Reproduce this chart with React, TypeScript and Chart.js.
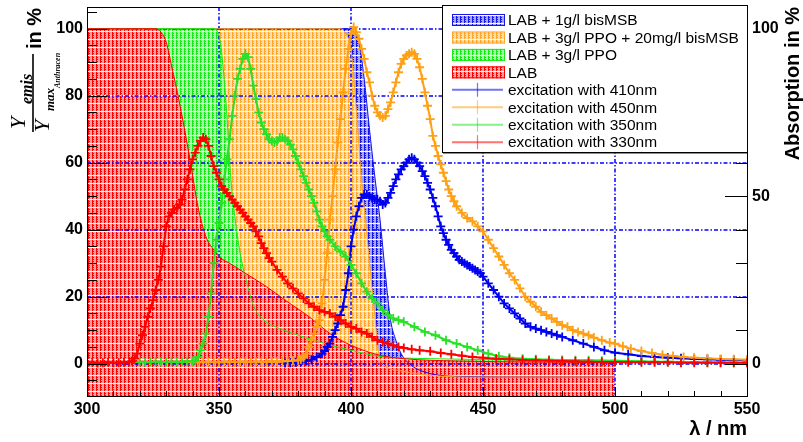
import React, { useEffect, useRef } from 'react';
import { Chart, registerables } from 'chart.js';

Chart.register(...registerables);

// ---------- data ----------
const X_TICKS = [300, 350, 400, 450, 500, 550];
const Y_TICKS = [0, 20, 40, 60, 80, 100];
const Y2_TICKS = [0, 50, 100];

// Absorption (in %) – LAB
const ABS_LAB_X = [300, 326, 328, 330, 332, 335, 339, 342, 345, 348, 350, 355, 360, 368, 375, 385, 392, 400, 411, 420, 440, 470, 500];
const ABS_LAB_Y = [100, 100, 99, 96, 89, 78, 61, 47, 38, 34, 32, 29.5, 27, 23, 19, 13.5, 9, 5.5, 2.5, 1.5, 0.8, 0.5, 0.3];
// LAB + 3g/l PPO
const ABS_PPO_X = [300, 348, 349.5, 350.5, 351.5, 353, 354.5, 356, 358, 360, 363, 367, 373, 380, 386, 390, 400, 411, 430, 460, 500];
const ABS_PPO_Y = [100, 100, 99, 96, 89, 74, 55, 44, 33, 26, 17.5, 13, 10.5, 8.5, 7, 6, 4, 2.2, 1.5, 1.2, 1];
// LAB + 3g/l PPO + 20mg/l bisMSB
const ABS_PPOMSB_X = [300, 396, 398, 400, 401, 402.3, 404, 405.5, 407.5, 409.2, 410.3, 412, 418, 430, 450, 500];
const ABS_PPOMSB_Y = [100, 100, 98.5, 94, 86, 73, 55, 43, 26, 13, 4, 0, -2, -3.5, -4, -4];
// LAB + 1g/l bisMSB
const ABS_MSB_X = [300, 399, 401, 403, 405, 407, 409, 411, 413, 415, 417, 419, 422, 428, 440, 470, 500];
const ABS_MSB_Y = [100, 100, 99, 96, 85, 70, 56, 43, 27, 13, 7, 3, 0, -2.5, -3.8, -4, -4];

// Emission spectra [wavelength nm, Y/Ymax %]
const EM_330 = [[300,0.3],[302,0.4],[304,0.2],[306,0.3],[308,0.4],[310,0.3],[312,0.3],[314,0.4],[316,0.5],[317,0.8],[318,1.5],[319,3],[320,6],[321,8.5],[322,11],[323,14],[324,16.5],[325,19],[326,22],[327,25],[328,29],[329,35],[330,41],[331,44],[332,45],[333,46],[334,46.5],[335,47.5],[336,49],[337,52],[338,55],[339,58],[340,61],[341,63],[342,65],[343,66.5],[344,67.5],[345,67],[346,65],[347,62],[348,59],[349,57],[350,55],[351,53],[352,52],[353,51],[354,50],[355,49],[356,48],[357,47],[358,46],[359,45],[360,44],[361,43],[362,42],[363,41],[364,39.5],[365,38],[366,36],[367,34.5],[368,33],[369,31.5],[370,30.5],[372,28],[374,26],[376,24],[378,22.5],[380,21],[382,19.5],[384,18],[386,17],[388,16],[390,15.5],[392,15],[394,14],[396,13],[398,12],[400,11],[402,10.5],[404,9.5],[406,9],[408,8],[410,7],[412,6.5],[414,6],[416,5.5],[418,5],[420,4.7],[423,4.3],[426,4],[430,3.7],[434,3.2],[438,2.8],[442,2.4],[446,2],[450,1.8],[455,1.5],[460,1.3],[465,1.1],[470,1],[475,0.9],[480,0.8],[485,0.7],[490,0.6],[495,0.5],[500,0.5],[505,0.4],[510,0.4],[515,0.4],[520,0.4],[525,0.3],[530,0.3],[535,0.3],[540,0.3],[545,0.3],[550,0.3]];
const EM_350 = [[320,0.5],[322,0.4],[324,0.5],[326,0.6],[328,0.5],[330,0.5],[332,0.6],[334,0.5],[336,0.6],[338,0.7],[340,0.8],[341,1],[342,2],[343,4],[344,6],[345,9],[346,14],[347,21],[348,30],[349,37],[350,42],[351,48],[352,55],[353,61],[354,67],[355,74],[356,80],[357,85],[358,88],[359,91],[360,92.5],[361,91.5],[362,88],[363,83],[364,79],[365,75],[366,72],[367,70],[368,68.5],[369,67],[370,66.5],[371,66],[372,66.5],[373,67.5],[374,67.5],[375,67],[376,66.5],[377,65.5],[378,64],[379,62],[380,60],[381,58],[382,56],[383,54],[384,52],[385,50],[386,48],[387,45.5],[388,43],[389,41],[390,39.5],[391,38],[392,37],[394,35],[396,33.5],[398,32],[400,29.5],[402,27],[404,24],[406,21.5],[408,19.5],[410,18],[412,16],[414,14.5],[416,13.5],[418,13],[420,12.5],[424,11],[428,9.5],[432,8.5],[436,7],[440,6],[444,5],[448,4],[452,3],[456,2.2],[460,1.8],[465,1.5],[470,1.3],[475,1.2],[480,1.1],[485,1],[490,1],[495,0.9],[500,0.9],[505,0.8],[510,0.7],[515,0.6],[520,0.6],[525,0.5],[530,0.5],[535,0.4],[540,0.4],[545,0.3],[550,0.3]];
const EM_450 = [[340,0.4],[342,0.5],[344,0.4],[346,0.5],[348,0.5],[350,0.4],[352,0.5],[354,0.6],[356,0.5],[358,0.5],[360,0.6],[362,0.5],[364,0.6],[366,0.5],[368,0.6],[370,0.7],[372,0.6],[374,0.7],[376,0.8],[378,0.9],[380,1],[381,1.3],[382,1.8],[383,3],[384,5],[385,7],[386,9],[387,11],[388,13],[389,18],[390,25],[391,33],[392,43],[393,50],[394,58],[395,66],[396,73],[397,81],[398,88],[399,94],[400,98.5],[401,100.5],[402,99],[403,97],[404,94],[405,91],[406,87],[407,84],[408,80],[409,77],[410,75],[411,74],[412,73.5],[413,74],[414,76],[415,78],[416,81],[417,84],[418,87],[419,89.5],[420,91],[421,92],[422,92.5],[423,93],[424,92.5],[425,91],[426,88.5],[427,85],[428,81],[429,77],[430,73],[431,68],[432,65],[433,62],[434,59.5],[435,57],[436,54.5],[437,52],[438,50],[439,48.5],[440,47],[442,45],[444,43.5],[446,42.5],[448,41],[450,39.5],[452,37],[454,34.5],[456,32],[458,29.5],[460,27],[462,25],[464,22.5],[466,20],[468,18.5],[470,17],[472,15.5],[474,14.5],[476,13.5],[478,12.5],[480,11.5],[482,11],[484,10],[486,9.5],[488,9],[490,8.5],[492,7.8],[495,7],[498,6.3],[500,6],[503,5.2],[506,4.5],[510,3.8],[514,3.2],[518,2.7],[522,2.3],[526,2],[530,1.8],[535,1.6],[540,1.4],[545,1.3],[550,1.2]];
const EM_410 = [[375,0.2],[377,0.3],[379,0.4],[381,0.5],[383,0.8],[385,1.2],[387,2],[389,3],[390,3.8],[391,5],[392,6],[393,8],[394,10],[395,12],[396,14.5],[397,17],[398,22],[399,27],[400,35],[401,40],[402,44],[403,47],[404,49.5],[405,50.5],[406,50.5],[407,50],[408,49.5],[409,49],[410,49],[411,48.5],[412,47.5],[413,48],[414,49.5],[415,51],[416,53],[417,55],[418,56.5],[419,58],[420,59],[421,60],[422,61],[423,61.5],[424,61],[425,60],[426,59],[427,57.5],[428,56],[429,54],[430,52],[431,49.5],[432,47],[433,44],[434,41],[435,39],[436,37],[437,35.5],[438,34],[439,33],[440,32],[441,31],[442,30.5],[443,30],[444,29.5],[445,29],[446,28.5],[447,28],[448,27.5],[449,27],[450,26],[452,24],[454,22],[456,20],[458,18],[460,16.5],[462,15],[464,13.5],[466,12],[468,11],[470,10.5],[472,10],[474,9.5],[476,9],[478,8.5],[480,8],[484,7],[488,6],[492,5],[496,4],[500,3.3],[505,2.8],[510,2.3],[515,2],[520,1.8],[525,1.6],[530,1.4],[535,1.3],[540,1.2],[545,1.1],[550,1]];

const FILL_LABELS = ['LAB + 1g/l bisMSB', 'LAB + 3g/l PPO + 20mg/l bisMSB', 'LAB + 3g/l PPO', 'LAB'];
const LINE_LABELS = ['excitation with 410nm', 'excitation with 450nm', 'excitation with 350nm', 'excitation with 330nm'];

// ---------- styles ----------
const C_BLUE: [number, number, number] = [20, 20, 235];
const C_ORANGE: [number, number, number] = [255, 165, 40];
const C_GREEN: [number, number, number] = [20, 235, 20];
const C_RED: [number, number, number] = [255, 0, 0];
const EM_BLUE = 'rgb(0,0,240)';
const EM_ORANGE = 'rgb(255,160,20)';
const EM_GREEN = 'rgb(40,225,40)';
const EM_RED = 'rgb(255,0,0)';
const FONT = '"Liberation Sans", Arial, sans-serif';

const rgb = (c: number[], a = 1) => `rgba(${c[0]},${c[1]},${c[2]},${a})`;

function makePattern(ctx: CanvasRenderingContext2D, c: number[]) {
  const cv = document.createElement('canvas');
  cv.width = 8;
  cv.height = 8;
  const p = cv.getContext('2d')!;
  const tint = [c[0] + (255 - c[0]) * 0.62, c[1] + (255 - c[1]) * 0.62, c[2] + (255 - c[2]) * 0.62].map(Math.round);
  for (let x = 0; x < 8; x++) {
    for (let y = 0; y < 8; y++) {
      let col: number[];
      if (x === 0 || x === 4) col = c;
      else if (x === 2 || x === 3 || x === 6 || x === 7) col = tint;
      else col = (x + y) % 2 === 0 ? c : tint;
      if (y === 7) col = [255, 252, 252];
      p.fillStyle = rgb(col);
      p.fillRect(x, y, 1, 1);
    }
  }
  return ctx.createPattern(cv, 'repeat')!;
}

const pts = (xs: number[], ys: number[]) => xs.map((x, i) => ({ x, y: ys[i] }));
const pairs = (arr: number[][]) => arr.map(([x, y]) => ({ x, y }));

export default function App() {
  const ref = useRef<HTMLCanvasElement>(null);

  useEffect(() => {
    document.body.style.margin = '0';
    const canvas = ref.current!;
    const ctx = canvas.getContext('2d')!;
    const patBlue = makePattern(ctx, C_BLUE);
    const patOrange = makePattern(ctx, C_ORANGE);
    const patGreen = makePattern(ctx, C_GREEN);
    const patRed = makePattern(ctx, C_RED);

    const emission = (data: number[][], color: string) => ({
      data: pairs(data),
      borderColor: color,
      borderWidth: 2,
      pointStyle: 'cross',
      pointRadius: 4.5,
      pointBorderColor: color,
      pointBorderWidth: 1.8,
      fill: false,
      tension: 0,
    });
    const absorption = (xs: number[], ys: number[], c: number[], pat: CanvasPattern) => ({
      data: pts(xs, ys),
      borderColor: rgb(c),
      borderWidth: 1,
      backgroundColor: pat,
      fill: 'start',
      pointRadius: 0,
      cubicInterpolationMode: 'monotone',
    });

    const yMin = -9.64;
    const yMax = 106.48;

    const decor = {
      id: 'decor',
      beforeDatasetsDraw(chart: any) {
        const { ctx: c, chartArea: a, scales } = chart;
        c.save();
        c.strokeStyle = 'rgb(0,0,255)';
        c.lineWidth = 1.5;
        c.setLineDash([4, 2, 1.5, 2]);
        for (const v of [350, 400, 450, 500]) {
          const x = Math.round(scales.x.getPixelForValue(v));
          c.beginPath(); c.moveTo(x, a.top); c.lineTo(x, a.bottom); c.stroke();
        }
        for (const v of Y_TICKS) {
          const y = Math.round(scales.y.getPixelForValue(v));
          c.beginPath(); c.moveTo(a.left, y); c.lineTo(a.right, y); c.stroke();
        }
        c.restore();
      },
      afterDatasetsDraw(chart: any) {
        const { ctx: c, chartArea: a, scales } = chart;
        c.save();
        c.strokeStyle = '#000';
        c.lineWidth = 1;
        c.setLineDash([]);
        // ticks left
        for (let v = -5; v <= 105; v += 5) {
          const y = Math.round(scales.y.getPixelForValue(v)) + 0.5;
          const len = v % 20 === 0 ? 20 : 10;
          c.beginPath(); c.moveTo(a.left, y); c.lineTo(a.left + len, y); c.stroke();
        }
        // ticks right
        for (let v = 0; v <= 100; v += 10) {
          const y = Math.round(scales.y2.getPixelForValue(v)) + 0.5;
          const len = v % 50 === 0 ? 22 : 11;
          c.beginPath(); c.moveTo(a.right, y); c.lineTo(a.right - len, y); c.stroke();
        }
        // ticks bottom
        for (let v = 300; v <= 550; v += 10) {
          const x = Math.round(scales.x.getPixelForValue(v)) + 0.5;
          const len = v % 50 === 0 ? 9 : 5;
          c.beginPath(); c.moveTo(x, a.bottom); c.lineTo(x, a.bottom - len); c.stroke();
        }
        // frame
        c.strokeRect(Math.round(a.left) + 0.5, Math.round(a.top) + 0.5, Math.round(a.right - a.left), Math.round(a.bottom - a.top));

        // legend
        const lx = 442, ly = 5, lw = 305, lh = 147;
        c.fillStyle = '#fff';
        c.fillRect(lx, ly, lw, lh);
        c.strokeStyle = '#000';
        c.strokeRect(lx + 0.5, ly + 0.5, lw, lh);
        c.strokeStyle = 'rgba(0,0,0,0.45)';
        c.beginPath(); c.moveTo(lx + 1, ly + lh + 1.5); c.lineTo(lx + lw + 1, ly + lh + 1.5); c.stroke();
        const fills = [[C_BLUE, patBlue], [C_ORANGE, patOrange], [C_GREEN, patGreen], [C_RED, patRed]] as any[];
        const lines = [EM_BLUE, EM_ORANGE, EM_GREEN, EM_RED];
        c.font = `15.5px ${FONT}`;
        c.textBaseline = 'middle';
        c.textAlign = 'left';
        for (let i = 0; i < 8; i++) {
          const yc = 20 + i * 17.45;
          if (i < 4) {
            c.fillStyle = fills[i][1];
            c.fillRect(452, yc - 6, 53, 12);
            c.strokeStyle = rgb(fills[i][0]);
            c.lineWidth = 1;
            c.strokeRect(452.5, yc - 5.5, 52, 11);
          } else {
            const col = lines[i - 4];
            c.save();
            c.globalAlpha = 0.55;
            c.strokeStyle = col;
            c.lineWidth = 2;
            c.beginPath(); c.moveTo(452, yc); c.lineTo(503, yc); c.stroke();
            c.lineWidth = 1.2;
            c.beginPath(); c.moveTo(477.5, yc - 7); c.lineTo(477.5, yc + 7); c.stroke();
            c.restore();
          }
          c.fillStyle = '#000';
          c.fillText(i < 4 ? FILL_LABELS[i] : LINE_LABELS[i - 4], 508, yc + 1);
        }
        c.restore();
      },
      afterDraw(chart: any) {
        const c = chart.ctx as CanvasRenderingContext2D;
        c.save();
        c.fillStyle = '#000';
        c.strokeStyle = '#000';
        // x title
        c.font = `bold 20px ${FONT}`;
        c.textAlign = 'right';
        c.textBaseline = 'alphabetic';
        c.fillText('λ / nm', 747, 435);
        // right title
        c.save();
        c.translate(799, 7);
        c.rotate(-Math.PI / 2);
        c.textAlign = 'right';
        c.textBaseline = 'alphabetic';
        c.fillText('Absorption in %', 0, 0);
        c.restore();
        // left title (fraction)
        c.save();
        c.translate(33, 132);
        c.rotate(-Math.PI / 2);
        c.textAlign = 'left';
        c.textBaseline = 'alphabetic';
        c.lineWidth = 1.6;
        c.beginPath(); c.moveTo(0, 0); c.lineTo(78, 0); c.stroke();
        c.font = 'italic 22px "Liberation Serif", serif';
        c.fillText('Y', 3, -8);
        c.fillText('Y', 0, 16);
        c.font = 'bold italic 16px "Liberation Serif", serif';
        c.fillText('emis', 28, -1);
        c.font = 'bold italic 13px "Liberation Serif", serif';
        c.fillText('max', 21, 21);
        c.font = 'bold italic 8px "Liberation Serif", serif';
        c.fillText('Anthracen', 44, 27);
        c.font = `bold 20px ${FONT}`;
        c.textBaseline = 'middle';
        c.fillText('in %', 83, 2);
        c.restore();
        c.restore();
      },
    };

    const tickFont = { family: FONT, size: 16, weight: 'bold' as const };

    const chart = new Chart(ctx, {
      type: 'line',
      data: {
        datasets: [
          emission(EM_330, EM_RED),
          emission(EM_350, EM_GREEN),
          emission(EM_450, EM_ORANGE),
          emission(EM_410, EM_BLUE),
          absorption(ABS_LAB_X, ABS_LAB_Y, C_RED, patRed),
          absorption(ABS_PPO_X, ABS_PPO_Y, C_GREEN, patGreen),
          absorption(ABS_PPOMSB_X, ABS_PPOMSB_Y, C_ORANGE, patOrange),
          absorption(ABS_MSB_X, ABS_MSB_Y, C_BLUE, patBlue),
        ] as any,
      },
      options: {
        responsive: false,
        animation: false,
        events: [],
        layout: { padding: { top: 7, left: 0, right: 0, bottom: 0 } },
        plugins: {
          legend: { display: false },
          tooltip: { enabled: false },
          filler: { drawTime: 'beforeDatasetsDraw' } as any,
        },
        scales: {
          x: {
            type: 'linear',
            position: 'bottom',
            min: 300,
            max: 550,
            grid: { display: false, drawTicks: false },
            border: { display: false },
            ticks: { color: '#000', font: tickFont, padding: 4, maxRotation: 0, autoSkip: false },
            afterBuildTicks: (s: any) => { s.ticks = X_TICKS.map((v) => ({ value: v })); },
            afterFit: (s: any) => { s.height = 46; s.paddingLeft = 0; s.paddingRight = 0; },
          },
          y: {
            type: 'linear',
            position: 'left',
            min: yMin,
            max: yMax,
            grid: { display: false, drawTicks: false },
            border: { display: false },
            ticks: { color: '#000', font: tickFont, padding: 4, autoSkip: false },
            afterBuildTicks: (s: any) => { s.ticks = Y_TICKS.map((v) => ({ value: v })); },
            afterFit: (s: any) => { s.width = 87; s.paddingTop = 0; s.paddingBottom = 0; },
          },
          y2: {
            type: 'linear',
            position: 'right',
            min: yMin,
            max: yMax,
            grid: { display: false, drawTicks: false },
            border: { display: false },
            ticks: { color: '#000', font: tickFont, padding: 5, autoSkip: false },
            afterBuildTicks: (s: any) => { s.ticks = Y2_TICKS.map((v) => ({ value: v })); },
            afterFit: (s: any) => { s.width = 56; s.paddingTop = 0; s.paddingBottom = 0; },
          },
        },
      } as any,
      plugins: [decor],
    });

    return () => chart.destroy();
  }, []);

  return (
    <div style={{ width: 803, height: 442 }}>
      <canvas ref={ref} width={803} height={442} style={{ display: 'block' }} />
    </div>
  );
}
